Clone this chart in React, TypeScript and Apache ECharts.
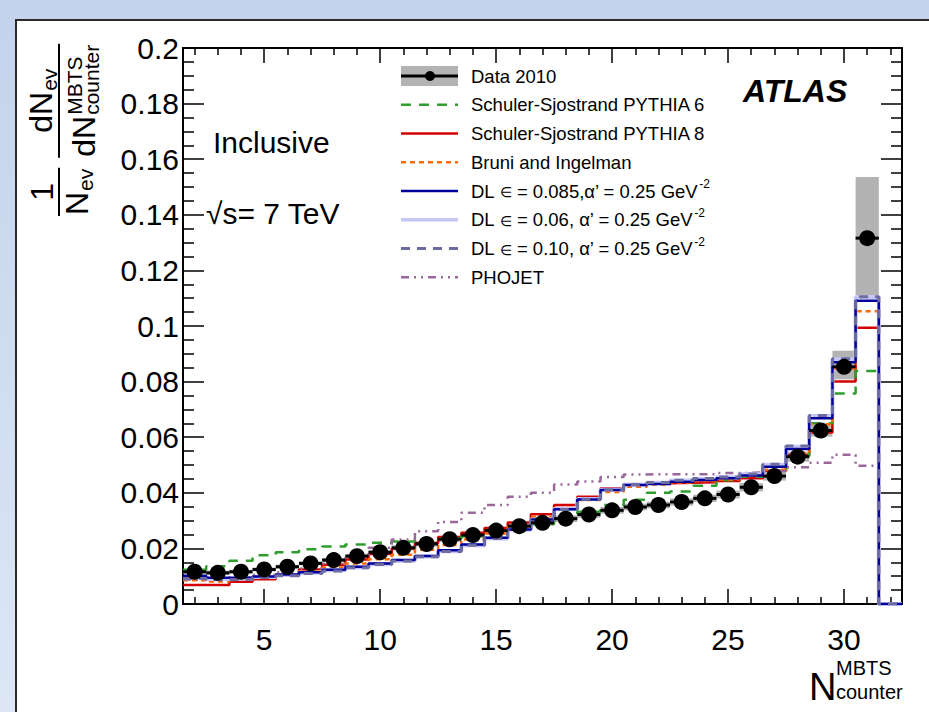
import React, { useEffect, useRef } from 'react';
import * as echarts from 'echarts';

const FONT = '"Liberation Sans", Arial, Helvetica, sans-serif';

// ---- data ----
const dataBins = [2, 3, 4, 5, 6, 7, 8, 9, 10, 11, 12, 13, 14, 15, 16, 17, 18, 19, 20, 21, 22, 23, 24, 25, 26, 27, 28, 29, 30, 31];
const dataValues = [0.0116, 0.0112, 0.0116, 0.0124, 0.0134, 0.0146, 0.0158, 0.0172, 0.0186, 0.0202, 0.0216, 0.0233, 0.0248, 0.0264, 0.028, 0.0292, 0.0307, 0.0322, 0.0337, 0.0349, 0.0356, 0.0367, 0.038, 0.0394, 0.042, 0.046, 0.053, 0.0624, 0.0853, 0.1316];
const sysDown = [0.0008, 0.0008, 0.0007, 0.0007, 0.0007, 0.0007, 0.0008, 0.0008, 0.0008, 0.0009, 0.0009, 0.001, 0.001, 0.001, 0.0011, 0.0011, 0.0012, 0.0012, 0.0012, 0.0012, 0.0012, 0.0013, 0.0013, 0.0014, 0.0015, 0.0016, 0.0018, 0.0022, 0.0045, 0.021];
const sysUp = [0.0008, 0.0008, 0.0007, 0.0007, 0.0007, 0.0007, 0.0008, 0.0008, 0.0008, 0.0009, 0.0009, 0.001, 0.001, 0.001, 0.0011, 0.0011, 0.0012, 0.0012, 0.0012, 0.0012, 0.0012, 0.0013, 0.0013, 0.0014, 0.0015, 0.0016, 0.0018, 0.0022, 0.0058, 0.022];

const modelBins = [2, 3, 4, 5, 6, 7, 8, 9, 10, 11, 12, 13, 14, 15, 16, 17, 18, 19, 20, 21, 22, 23, 24, 25, 26, 27, 28, 29, 30, 31, 32];
const pythia6 = [0.0123, 0.0136, 0.0156, 0.0175, 0.0186, 0.0197, 0.0207, 0.0214, 0.022, 0.0225, 0.023, 0.0236, 0.0245, 0.0256, 0.0268, 0.0288, 0.0306, 0.0332, 0.0356, 0.0375, 0.04, 0.0405, 0.0425, 0.0445, 0.0458, 0.0472, 0.0532, 0.065, 0.0757, 0.0838, 0];
const pythia8 = [0.0068, 0.0068, 0.008, 0.0089, 0.0104, 0.0124, 0.0141, 0.016, 0.018, 0.02, 0.0219, 0.0241, 0.0256, 0.0273, 0.0293, 0.0323, 0.0356, 0.0386, 0.0416, 0.0431, 0.0434, 0.0436, 0.0438, 0.0442, 0.0452, 0.0479, 0.0536, 0.0617, 0.08, 0.0994, 0];
const bruni = [0.0085, 0.0081, 0.0088, 0.0096, 0.0106, 0.0118, 0.0131, 0.0146, 0.0161, 0.0177, 0.0195, 0.0212, 0.0232, 0.0254, 0.028, 0.0314, 0.0345, 0.0374, 0.0403, 0.0422, 0.043, 0.0437, 0.0442, 0.0448, 0.0462, 0.0483, 0.0543, 0.0647, 0.0847, 0.1053, 0];
const dl085 = [0.0102, 0.0094, 0.0094, 0.0099, 0.0106, 0.0114, 0.0123, 0.0134, 0.0146, 0.0158, 0.0173, 0.0193, 0.0214, 0.0238, 0.0268, 0.0304, 0.0341, 0.0376, 0.041, 0.0428, 0.0432, 0.044, 0.0446, 0.0452, 0.0462, 0.0494, 0.0558, 0.0668, 0.087, 0.1091, 0];
const dl006 = [0.0096, 0.009, 0.0091, 0.0097, 0.0104, 0.0112, 0.0121, 0.0131, 0.0143, 0.0156, 0.0171, 0.019, 0.0211, 0.0236, 0.0267, 0.0304, 0.0342, 0.0378, 0.0412, 0.043, 0.0436, 0.0444, 0.045, 0.0456, 0.0467, 0.0501, 0.0566, 0.0676, 0.088, 0.1104, 0];
const dl010 = [0.0092, 0.0087, 0.0089, 0.0095, 0.0102, 0.011, 0.0119, 0.013, 0.0142, 0.0155, 0.017, 0.0189, 0.0211, 0.0236, 0.0266, 0.0302, 0.034, 0.0377, 0.0411, 0.043, 0.0437, 0.0445, 0.0451, 0.0457, 0.0468, 0.0503, 0.0568, 0.0678, 0.0882, 0.1105, 0];
const phojet = [0.0088, 0.009, 0.0096, 0.0104, 0.0114, 0.0128, 0.0145, 0.017, 0.0202, 0.0232, 0.0262, 0.0295, 0.0328, 0.0356, 0.0386, 0.04, 0.043, 0.0441, 0.0457, 0.0466, 0.0467, 0.0467, 0.0467, 0.0471, 0.0473, 0.0478, 0.0492, 0.0508, 0.0537, 0.0497, 0];

const xMajorTicks = [5, 10, 15, 20, 25, 30];
const xMinorTicks = [2, 3, 4, 6, 7, 8, 9, 11, 12, 13, 14, 16, 17, 18, 19, 21, 22, 23, 24, 26, 27, 28, 29, 31, 32];
const binWidth = 1;

const legendLabels = [
  'Data 2010',
  'Schuler-Sjostrand PYTHIA 6',
  'Schuler-Sjostrand PYTHIA 8',
  'Bruni and Ingelman',
  'DL \u2208 = 0.085,\u03b1\u2019 = 0.25 GeV',
  'DL \u2208 = 0.06, \u03b1\u2019 = 0.25 GeV',
  'DL \u2208 = 0.10, \u03b1\u2019 = 0.25 GeV',
  'PHOJET',
];
const legendSup = ['', '', '', '', '-2', '-2', '-2', ''];

type Model = { values: number[]; color: string; width: number; dash: any; legendRow: number };
// drawing order: first drawn is lowest
const models: Model[] = [
  { values: pythia8, color: '#d40000', width: 2.5, dash: 'solid', legendRow: 2 },
  { values: pythia6, color: '#2f9e2f', width: 2.5, dash: [10, 8], legendRow: 1 },
  { values: bruni, color: '#ff6a00', width: 2.5, dash: [5, 4], legendRow: 3 },
  { values: phojet, color: '#9a689a', width: 2.5, dash: [8, 5, 2, 5, 2, 5], legendRow: 7 },
  { values: dl006, color: '#c6c6f6', width: 4, dash: 'solid', legendRow: 5 },
  { values: dl085, color: '#00009c', width: 2.5, dash: 'solid', legendRow: 4 },
  { values: dl010, color: '#6c6ca0', width: 3, dash: [9, 7], legendRow: 6 },
];

function measure(text: string, font: string): number {
  const c = document.createElement('canvas').getContext('2d');
  if (!c) return text.length * 10;
  c.font = font;
  return c.measureText(text).width;
}

function fontOf(size: number, opts: any = {}) {
  return `${opts.style || 'normal'} ${opts.weight || 'normal'} ${size}px ${FONT}`;
}

function txt(text: string, x: number, y: number, size: number, opts: any = {}) {
  return {
    type: 'text',
    x,
    y,
    silent: true,
    style: {
      text,
      font: fontOf(size, opts),
      fill: '#000',
      align: opts.align || 'left',
      textAlign: opts.align || 'left',
      verticalAlign: 'middle',
      textVerticalAlign: 'middle',
    },
  };
}

function buildYTitle() {
  const F = 32;
  const f = 21;
  const fF = fontOf(F);
  const ff = fontOf(f);
  const mid = (baseline: number, size: number) => baseline - 0.3465 * size;
  const ch: any[] = [];
  const wN = measure('N', fF);
  const wev = measure('ev', ff);
  const W1 = wN + 1 + wev;
  ch.push(txt('N', 0, mid(29, F), F));
  ch.push(txt('ev', wN + 1, mid(34, f), f));
  ch.push({ type: 'line', shape: { x1: -1, y1: 0, x2: W1 + 1, y2: 0 }, style: { stroke: '#000', lineWidth: 2 } });
  ch.push(txt('1', W1 / 2, mid(-6, F), F, { align: 'center' }));
  const lx1 = W1 + 12;
  const wdN = measure('dN', fF);
  const wStack = Math.max(measure('MBTS', ff), measure('counter', ff));
  const W2 = wdN + 1 + wStack;
  ch.push(txt('dN', lx1, mid(36, F), F));
  ch.push(txt('MBTS', lx1 + wdN + 1, mid(23, f), f));
  ch.push(txt('counter', lx1 + wdN + 1, mid(40, f), f));
  ch.push({ type: 'line', shape: { x1: lx1 - 1, y1: 0, x2: lx1 + W2 + 1, y2: 0 }, style: { stroke: '#000', lineWidth: 2 } });
  const wNum = wdN + 1 + wev;
  const nx = lx1 + (W2 - wNum) / 2;
  ch.push(txt('dN', nx, mid(-7, F), F));
  ch.push(txt('ev', nx + wdN + 1, mid(-2, f), f));
  return { type: 'group', x: 59, y: 215, rotation: Math.PI / 2, silent: true, children: ch };
}

function buildXTitle() {
  return [
    txt('N', 809, 700 - 0.3465 * 38, 38),
    txt('MBTS', 836, 675 - 0.3465 * 20, 20),
    txt('counter', 836, 699 - 0.3465 * 20, 20),
  ];
}

function buildLegend() {
  const out: any[] = [];
  const rowY = (i: number) => 76 + i * 28.75;
  const x1 = 401;
  const x2 = 458;
  const tx = 471;
  const size = 18.5;
  out.push({ type: 'rect', silent: true, shape: { x: x1, y: rowY(0) - 10, width: x2 - x1, height: 20 }, style: { fill: '#b3b3b3' } });
  out.push({ type: 'line', silent: true, shape: { x1, y1: rowY(0), x2, y2: rowY(0) }, style: { stroke: '#000', lineWidth: 3 } });
  out.push({ type: 'circle', silent: true, shape: { cx: 430, cy: rowY(0), r: 5 }, style: { fill: '#000' } });
  models.forEach((m) => {
    const y = rowY(m.legendRow);
    out.push({
      type: 'line',
      silent: true,
      shape: { x1, y1: y, x2, y2: y },
      style: { stroke: m.color, lineWidth: m.width === 4 ? 3.5 : m.width, lineDash: m.dash === 'solid' ? null : m.dash },
    });
  });
  legendLabels.forEach((label, i) => {
    const y = rowY(i);
    const parts = label.split('\u2208');
    let x = tx;
    parts.forEach((p, j) => {
      if (j > 0) {
        out.push(txt('\u2208', x, y + 1, 14));
        x += measure('\u2208', fontOf(14));
      }
      out.push(txt(p, x, y, size));
      x += measure(p, fontOf(size));
    });
    if (legendSup[i]) {
      out.push(txt(legendSup[i], x + 1, y - 7, 12));
    }
  });
  return out;
}

export default function App() {
  const ref = useRef<HTMLDivElement>(null);
  useEffect(() => {
    if (!ref.current) return;
    const chart = echarts.init(ref.current, undefined, { renderer: 'svg', width: 929, height: 712 });
    const lineStyle = { color: '#000', width: 1.5 };
    const xBase = {
      type: 'value',
      min: 1.5,
      max: 32.5,
      splitLine: { show: false },
      axisLine: { show: true, onZero: false, lineStyle: { color: '#000', width: 2 } },
    };
    const yBase = {
      type: 'value',
      min: 0,
      max: 0.2,
      interval: 0.02,
      splitLine: { show: false },
      axisLine: { show: true, onZero: false, lineStyle: { color: '#000', width: 2 } },
      axisTick: { show: true, inside: true, length: 21, lineStyle },
      minorTick: { show: true, splitNumber: 4, length: 11, lineStyle },
    };
    const series: any[] = [];
    series.push({
      type: 'custom',
      silent: true,
      z: 1,
      renderItem: (params: any, api: any) => {
        const x = api.value(0);
        const y = api.value(1);
        const p1 = api.coord([x - binWidth / 2, y + api.value(3)]);
        const p2 = api.coord([x + binWidth / 2, y - api.value(2)]);
        return { type: 'rect', shape: { x: p1[0], y: p1[1], width: p2[0] - p1[0], height: p2[1] - p1[1] }, style: { fill: '#b3b3b3' } };
      },
      encode: { x: 0, y: 1 },
      data: dataBins.map((b, i) => [b, dataValues[i], sysDown[i], sysUp[i]]),
    });
    models.forEach((m) => {
      const pts = modelBins.map((b, i) => [b - binWidth / 2, m.values[i]]);
      const last = modelBins.length - 1;
      pts.push([modelBins[last] + binWidth / 2, m.values[last]]);
      series.push({
        type: 'line',
        step: 'end',
        silent: true,
        z: 2,
        symbol: 'none',
        showSymbol: false,
        data: pts,
        lineStyle: { color: m.color, width: m.width, type: m.dash, opacity: 1 },
      });
    });
    series.push({
      type: 'custom',
      silent: true,
      z: 4,
      renderItem: (params: any, api: any) => {
        const x = api.value(0);
        const y = api.value(1);
        const p1 = api.coord([x - binWidth / 2, y]);
        const p2 = api.coord([x + binWidth / 2, y]);
        return { type: 'line', shape: { x1: p1[0], y1: p1[1], x2: p2[0], y2: p2[1] }, style: { stroke: '#000', lineWidth: 3 } };
      },
      encode: { x: 0, y: 1 },
      data: dataBins.map((b, i) => [b, dataValues[i]]),
    });
    series.push({
      type: 'scatter',
      silent: true,
      z: 5,
      symbol: 'circle',
      symbolSize: 16,
      itemStyle: { color: '#000', opacity: 1 },
      data: dataBins.map((b, i) => [b, dataValues[i]]),
    });

    const option: any = {
      animation: false,
      grid: { left: 183, top: 48, width: 719, height: 556, containLabel: false },
      xAxis: [
        {
          ...xBase,
          position: 'bottom',
          axisTick: { show: true, inside: true, length: 15, customValues: xMajorTicks, lineStyle },
          axisLabel: { show: true, customValues: xMajorTicks, margin: 20, fontSize: 30, fontFamily: FONT, color: '#000' },
        },
        {
          ...xBase,
          position: 'bottom',
          axisTick: { show: true, inside: true, length: 7, customValues: xMinorTicks, lineStyle },
          axisLabel: { show: false },
        },
        {
          ...xBase,
          position: 'top',
          axisTick: { show: true, inside: true, length: 15, customValues: xMajorTicks, lineStyle },
          axisLabel: { show: false },
        },
        {
          ...xBase,
          position: 'top',
          axisTick: { show: true, inside: true, length: 7, customValues: xMinorTicks, lineStyle },
          axisLabel: { show: false },
        },
      ],
      yAxis: [
        {
          ...yBase,
          position: 'left',
          axisLabel: {
            show: true,
            margin: 4,
            fontSize: 30,
            fontFamily: FONT,
            color: '#000',
            formatter: (v: number) => (v === 0 ? '0' : String(Math.round(v * 1000) / 1000)),
          },
        },
        { ...yBase, position: 'right', axisLabel: { show: false } },
      ],
      series,
      graphic: [
        ...buildLegend(),
        txt('Inclusive', 213, 142, 30),
        txt('\u221as= 7 TeV', 206, 213, 30),
        txt('ATLAS', 743, 91, 32, { weight: 'bold', style: 'italic' }),
        buildYTitle(),
        ...buildXTitle(),
      ],
    };
    chart.setOption(option);
    return () => chart.dispose();
  }, []);

  return (
    <div
      style={{
        position: 'fixed',
        left: 0,
        top: 0,
        width: 929,
        height: 712,
        background: 'linear-gradient(to bottom, #c3d3ec, #dce6f5)',
        overflow: 'hidden',
      }}
    >
      <div
        style={{
          position: 'absolute',
          left: 15,
          top: 19,
          right: 0,
          bottom: 0,
          background: '#fff',
          borderTop: '2px solid #2a2a2a',
          borderLeft: '2px solid #2a2a2a',
        }}
      />
      <div ref={ref} style={{ position: 'absolute', left: 0, top: 0, width: 929, height: 712 }} />
    </div>
  );
}
